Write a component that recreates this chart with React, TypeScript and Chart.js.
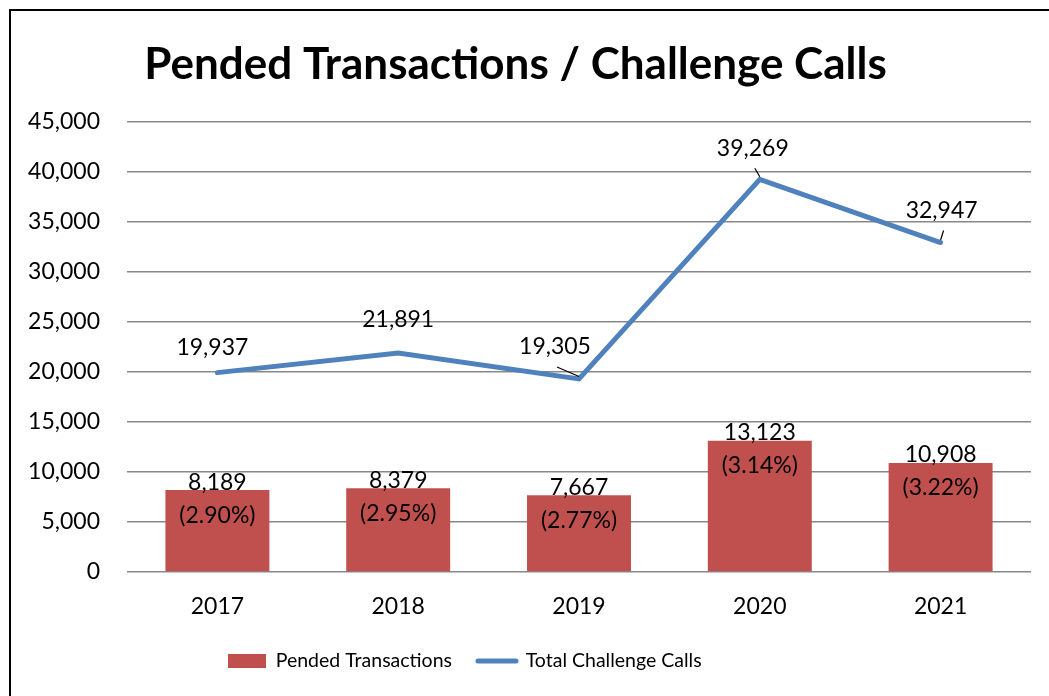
import React, { useEffect, useRef } from "react";
import { Chart, registerables } from "chart.js";

Chart.register(...registerables);

// ---- data ----
const chartTitle = "Pended Transactions / Challenge Calls";
const categories = ["2017", "2018", "2019", "2020", "2021"];
const seriesNames = ["Pended Transactions", "Total Challenge Calls"];
const pendedTransactions = [8189, 8379, 7667, 13123, 10908];
const pendedPercentLabels = ["(2.90%)", "(2.95%)", "(2.77%)", "(3.14%)", "(3.22%)"];
const totalChallengeCalls = [19937, 21891, 19305, 39269, 32947];
const yMin = 0;
const yMax = 45000;
const yStep = 5000;

// ---- styling (label placement for the line series, like the hand-placed labels) ----
const FONT = "Lato";
const lineLabelOffsets: [number, number][] = [
  [-5, -25],
  [0, -34],
  [-24, -32],
  [-7, -31],
  [1, -32],
];
const lineLabelLeader = [false, false, true, true, true];

const fmt = (v: number) => v.toLocaleString("en-US");

const framePlugin = {
  id: "frame",
  beforeDraw(chart: any) {
    const ctx = chart.ctx;
    ctx.save();
    ctx.fillStyle = "#ffffff";
    ctx.fillRect(0, 0, chart.width, chart.height);
    ctx.strokeStyle = "#000000";
    ctx.lineWidth = 2;
    ctx.strokeRect(10, 10, chart.width + 50, chart.height + 50);
    ctx.restore();
  },
};

const legendPlacePlugin = {
  id: "legendPlace",
  afterLayout(chart: any) {
    const lg = chart.legend;
    if (!lg || !lg.lineWidths) return;
    const pad = lg.options.labels.padding;
    const lw = lg.lineWidths[0];
    const startX = 227;
    lg.left = startX - pad;
    lg.right = startX + lw + 2;
    const ih = (lg.legendHitBoxes && lg.legendHitBoxes[0] && lg.legendHitBoxes[0].height) || 20;
    const h = lg.bottom - lg.top;
    lg.top = 661 - pad - ih / 2;
    lg.bottom = lg.top + h;
  },
};

const labelsPlugin = {
  id: "valueLabels",
  afterDatasetsDraw(chart: any) {
    const ctx = chart.ctx;
    ctx.save();
    ctx.font = `23px ${FONT}`;
    ctx.fillStyle = "#000000";
    ctx.textAlign = "center";
    ctx.textBaseline = "middle";
    const barMeta = chart.getDatasetMeta(0);
    barMeta.data.forEach((el: any, i: number) => {
      const { x, y } = el.getProps(["x", "y"], true);
      ctx.fillText(fmt(pendedTransactions[i]), x, y - 8);
      ctx.fillText(pendedPercentLabels[i], x, y + 25);
    });
    const lineMeta = chart.getDatasetMeta(1);
    lineMeta.data.forEach((el: any, i: number) => {
      const { x, y } = el.getProps(["x", "y"], true);
      const [dx, dy] = lineLabelOffsets[i];
      const lx = x + dx;
      const ly = y + dy;
      ctx.fillText(fmt(totalChallengeCalls[i]), lx, ly);
      if (lineLabelLeader[i]) {
        ctx.beginPath();
        ctx.strokeStyle = "#000000";
        ctx.lineWidth = 1.2;
        ctx.moveTo(lx + 2, ly + 20);
        ctx.lineTo(x, y - 2.5);
        ctx.stroke();
      }
    });
    ctx.restore();
  },
};

export default function App() {
  const ref = useRef<HTMLCanvasElement>(null);
  useEffect(() => {
    if (!ref.current) return;
    const chart = new Chart(ref.current, {
      type: "bar",
      data: {
        labels: categories,
        datasets: [
          {
            type: "bar",
            label: seriesNames[0],
            data: pendedTransactions,
            backgroundColor: "#C0504D",
            borderWidth: 0,
            barPercentage: 0.575,
            categoryPercentage: 1,
            order: 1,
          },
          {
            type: "line",
            label: seriesNames[1],
            data: totalChallengeCalls,
            borderColor: "#4F81BD",
            backgroundColor: "#4F81BD",
            borderWidth: 5,
            borderCapStyle: "round",
            pointRadius: 0,
            pointHoverRadius: 0,
            tension: 0,
            fill: false,
            order: 0,
          },
        ],
      } as any,
      options: {
        responsive: false,
        animation: false,
        devicePixelRatio: 1,
        layout: { padding: { left: 0, right: 18, top: 0, bottom: 0 } },
        scales: {
          x: {
            grid: { display: false },
            border: { display: false },
            ticks: { color: "#000000", font: { family: FONT, size: 23 }, padding: 13 },
            afterFit: (s: any) => {
              const lh = s.chart.legend ? s.chart.legend.height : 0;
              s.height = 124 - lh;
            },
          },
          y: {
            min: yMin,
            max: yMax,
            ticks: {
              stepSize: yStep,
              color: "#000000",
              font: { family: FONT, size: 23 },
              padding: 27,
              callback: (v: any) => fmt(Number(v)),
            },
            grid: { color: "#888888", lineWidth: 1.6, drawTicks: false },
            border: { display: false },
            afterFit: (s: any) => {
              s.width = 127;
            },
          },
        },
        plugins: {
          title: {
            display: true,
            text: chartTitle,
            color: "#000000",
            font: { family: FONT, size: 44, weight: "bold", lineHeight: 1.2 },
            padding: { top: 38, bottom: 31.2 },
          },
          legend: {
            display: true,
            position: "bottom",
            labels: {
              color: "#000000",
              font: { family: FONT, size: 19.5 },
              padding: 26,
              usePointStyle: true,
              pointStyleWidth: 38,
              boxHeight: 14,
              generateLabels: () => [
                {
                  text: seriesNames[0],
                  fillStyle: "#C0504D",
                  strokeStyle: "#C0504D",
                  lineWidth: 0,
                  pointStyle: "rect",
                  datasetIndex: 0,
                  fontColor: "#000000",
                },
                {
                  text: seriesNames[1],
                  fillStyle: "#4F81BD",
                  strokeStyle: "#4F81BD",
                  lineWidth: 5,
                  lineCap: "round",
                  pointStyle: "line",
                  datasetIndex: 1,
                  fontColor: "#000000",
                },
              ],
            },
          },
          tooltip: { enabled: false },
        },
      } as any,
      plugins: [framePlugin, legendPlacePlugin, labelsPlugin],
    });
    return () => chart.destroy();
  }, []);
  return (
    <div style={{ position: "fixed", left: 0, top: 0, width: 1049, height: 696, background: "#fff" }}>
      <canvas ref={ref} width={1049} height={696} style={{ display: "block", width: 1049, height: 696 }} />
    </div>
  );
}
